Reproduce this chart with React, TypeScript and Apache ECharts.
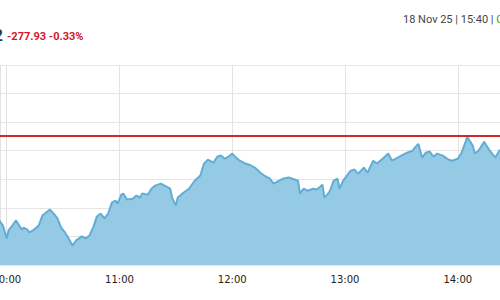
import React, { useEffect, useRef } from "react";
import * as echarts from "echarts";

const times: string[] = [
  "09:55","09:56","09:58","10:00","10:01","10:03","10:05","10:06","10:08","10:09",
  "10:11","10:12","10:14","10:17","10:19","10:21","10:23","10:25","10:27","10:29",
  "10:31","10:33","10:35","10:37","10:40","10:42","10:44","10:46","10:48","10:50",
  "10:52","10:54","10:56","10:58","10:59","11:01","11:02","11:04","11:07","11:09",
  "11:11","11:12","11:15","11:17","11:19","11:22","11:24","11:27","11:28","11:30",
  "11:31","11:34","11:37","11:40","11:43","11:45","11:47","11:50","11:52","11:54",
  "11:56","11:58","12:00","12:02","12:04","12:07","12:09","12:12","12:15","12:17",
  "12:20","12:22","12:24","12:27","12:30","12:32","12:35","12:36","12:38","12:40",
  "12:43","12:45","12:48","12:49","12:51","12:52","12:54","12:56","12:57","12:59",
  "13:03","13:05","13:07","13:10","13:12","13:15","13:17","13:20","13:23","13:25",
  "13:28","13:30","13:33","13:36","13:37","13:39","13:41","13:43","13:45","13:47",
  "13:49","13:52","13:55","13:57","14:00","14:02","14:04","14:05","14:08","14:09",
  "14:11","14:14","14:17","14:20","14:22","14:25"
];

const values: number[] = [
  84670,84656,84638,84593,84621,84638,84656,84645,84624,84631,
  84624,84614,84621,84638,84673,84684,84694,84680,84663,84631,
  84614,84593,84568,84586,84600,84593,84603,84631,84670,84680,
  84663,84680,84719,84725,84715,84746,84750,84729,84732,84743,
  84736,84750,84746,84767,84778,84785,84778,84767,84736,84708,
  84736,84753,84767,84795,84813,84855,84869,84858,84879,84883,
  84872,84879,84890,84876,84865,84855,84851,84841,84823,84813,
  84802,84785,84792,84802,84806,84802,84795,84750,84767,84760,
  84767,84764,84781,84736,84750,84760,84795,84802,84767,84795,
  84830,84834,84820,84841,84823,84865,84855,84872,84890,84865,
  84876,84883,84893,84900,84910,84924,84876,84893,84897,84879,
  84890,84883,84869,84865,84872,84893,84928,84949,84917,84890,
  84900,84931,84900,84876,84900,84907
];

const prevClose = 84950.95;
const lastValue = "84,673.02";
const change = "-277.93 -0.33%";
const stamp = "18 Nov 25 | 15:40 | ";
const status = "Close";

// visible time window (minutes since midnight)
const viewStart = 596.44;
const viewEnd = 862.45;

const toMin = (t: string) => {
  const [h, m] = t.split(":").map(Number);
  return h * 60 + m;
};

export default function App() {
  const ref = useRef<HTMLDivElement>(null);
  useEffect(() => {
    if (!ref.current) return;
    const chart = echarts.init(ref.current, null, { renderer: "svg" });
    chart.setOption({
      animation: false,
      backgroundColor: "#ffffff",
      grid: {
        left: 0,
        right: 0,
        top: 65,
        bottom: 35,
        containLabel: false,
        outerBoundsMode: "none",
      },
      xAxis: {
        type: "value",
        min: viewStart,
        max: viewEnd,
        minInterval: 60,
        maxInterval: 60,
        axisLine: { show: false },
        axisTick: { show: false },
        axisLabel: {
          margin: 9,
          color: "#222",
          fontSize: 10,
          fontFamily: "DejaVu Sans",
          showMinLabel: true,
          showMaxLabel: true,
          hideOverlap: false,
          formatter: (v: number) =>
            Math.abs(v % 60) < 1e-6
              ? `${Math.floor(v / 60)}:${String(v % 60).padStart(2, "0")}`
              : "",
        },
        splitLine: { show: true, lineStyle: { color: "#e6e2e2", width: 1 } },
      },
      yAxis: {
        type: "value",
        min: 84500,
        max: 85200,
        interval: 100,
        axisLine: { show: false },
        axisTick: { show: false },
        axisLabel: { show: false },
        splitLine: { show: true, lineStyle: { color: "#e6e6e6", width: 1 } },
      },
      series: [
        {
          type: "line",
          data: times.map((t, i) => [toMin(t), values[i]]),
          symbol: "none",
          clip: true,
          lineStyle: { color: "#62add6", width: 2 },
          areaStyle: { color: "#94cae4", opacity: 1 },
          markLine: {
            silent: true,
            symbol: "none",
            label: { show: false },
            lineStyle: { color: "#cc2b2b", width: 2, type: "solid" },
            data: [{ yAxis: prevClose }],
          },
        },
      ],
      graphic: [
        {
          type: "text",
          x: 3,
          y: 35,
          style: {
            text: lastValue,
            align: "right",
            verticalAlign: "middle",
            fill: "#1f3b5c",
            font: "bold 16px Roboto",
          },
        },
        {
          type: "text",
          x: 7,
          y: 36,
          style: {
            text: change,
            align: "left",
            verticalAlign: "middle",
            fill: "#d0192b",
            font: "bold 11px Roboto",
          },
        },
        {
          type: "text",
          x: 403,
          y: 19,
          style: {
            text: `{a|${stamp}}{b|${status}}`,
            align: "left",
            verticalAlign: "middle",
            rich: {
              a: { fill: "#444", fontSize: 11, fontFamily: "Roboto" },
              b: { fill: "#3a9a2a", fontSize: 11, fontFamily: "Roboto" },
            },
          },
        },
      ],
    });
    return () => chart.dispose();
  }, []);
  return <div ref={ref} style={{ width: 500, height: 300, position: "absolute", left: 0, top: 0 }} />;
}
